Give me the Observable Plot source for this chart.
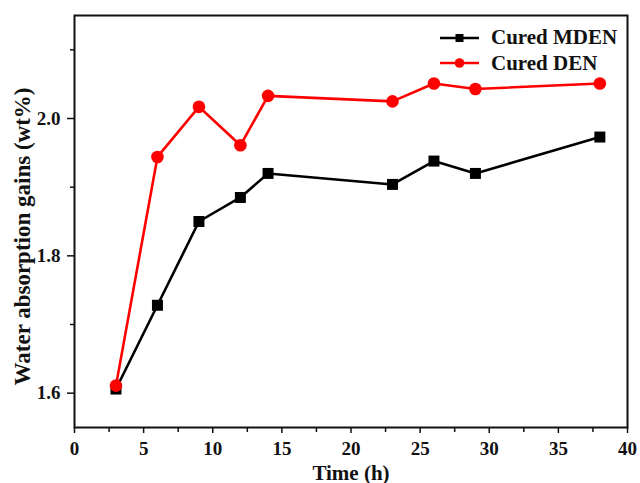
<!DOCTYPE html>
<html>
<head>
<meta charset="utf-8">
<script src="https://cdn.jsdelivr.net/npm/d3@7"></script>
<script src="https://cdn.jsdelivr.net/npm/@observablehq/plot@0.6"></script>
<style>
  html, body { margin: 0; padding: 0; background: #fff; }
  #wrap { position: relative; width: 640px; height: 483px; }
  #legend { position: absolute; left: 440px; top: 25px; font-family: "Liberation Serif", serif; font-weight: bold; font-size: 21px; color: #111; }
  .row { display: flex; align-items: center; height: 25.6px; }
  .row svg { margin-right: 11px; }
</style>
</head>
<body>
<div id="wrap"></div>
<script>
// Data
const time = [3, 6, 9, 12, 14, 23, 26, 29, 38];
const mden = [1.606, 1.728, 1.850, 1.885, 1.920, 1.904, 1.938, 1.920, 1.973];
const den  = [1.611, 1.944, 2.017, 1.961, 2.033, 2.025, 2.051, 2.043, 2.051];
const seriesNames = ["Cured MDEN", "Cured DEN"];
const xTicks = [0, 5, 10, 15, 20, 25, 30, 35, 40];
const xMinor = [2.5, 7.5, 12.5, 17.5, 22.5, 27.5, 32.5, 37.5];
const yTicks = [1.6, 1.8, 2.0];
const yMinor = [1.7, 1.9, 2.1];
const xLabel = "Time (h)";
const yLabel = "Water absorption gains (wt%)";

const mdenData = time.map((t, i) => ({t, v: mden[i]}));
const denData = time.map((t, i) => ({t, v: den[i]}));

const font = "'Liberation Serif', 'Times New Roman', serif";
const RED = "#ff0000";

const chart = Plot.plot({
  width: 640,
  height: 483,
  marginLeft: 74,
  marginRight: 13,
  marginTop: 15,
  marginBottom: 56,
  style: { fontFamily: font, fontWeight: "bold", fontSize: "19px", color: "#111", background: "#fff" },
  x: { domain: [0, 40] },
  y: { domain: [1.55, 2.15] },
  marks: [
    Plot.axisX({ ticks: xTicks, tickSize: 6, tickPadding: 8, label: null, fontSize: 19, strokeWidth: 1.5 }),
    Plot.axisX({ ticks: xMinor, tickSize: 5, tickFormat: () => "", label: null, strokeWidth: 1.5 }),
    Plot.axisY({ ticks: yTicks, tickSize: 7, tickPadding: 7, tickFormat: d3.format(".1f"), label: null, fontSize: 19, strokeWidth: 1.5 }),
    Plot.axisY({ ticks: yMinor, tickSize: 4, tickFormat: () => "", label: null, strokeWidth: 1.5 }),
    Plot.frame({ stroke: "#111", strokeWidth: 2 }),
    Plot.line(mdenData, { x: "t", y: "v", stroke: "#000", strokeWidth: 2.6 }),
    Plot.dot(mdenData, { x: "t", y: "v", symbol: "square", fill: "#000", r: 6.2 }),
    Plot.line(denData, { x: "t", y: "v", stroke: RED, strokeWidth: 2.6 }),
    Plot.dot(denData, { x: "t", y: "v", symbol: "circle", fill: RED, r: 6.3 }),
    Plot.text([xLabel], { frameAnchor: "bottom", dy: 52, fontSize: 21, fontWeight: "bold", fill: "#111" }),
    Plot.text([yLabel], { frameAnchor: "left", textAnchor: "middle", lineAnchor: "middle", rotate: -90, dx: -52, dy: 15, fontSize: 23, fontWeight: "bold", fill: "#111" })
  ]
});
document.getElementById("wrap").appendChild(chart);

// Legend
const legend = document.createElement("div");
legend.id = "legend";
const swatches = [
  { color: "#000", symbol: "square" },
  { color: RED, symbol: "circle" }
];
seriesNames.forEach((name, i) => {
  const row = document.createElement("div");
  row.className = "row";
  const s = swatches[i];
  const marker = s.symbol === "square"
    ? `<rect x="15.5" y="5" width="8" height="8" fill="${s.color}"/>`
    : `<circle cx="19.5" cy="9" r="4.8" fill="${s.color}"/>`;
  row.innerHTML = `<svg width="40" height="18"><line x1="0" x2="39" y1="9" y2="9" stroke="${s.color}" stroke-width="2.6"/>${marker}</svg><span>${name}</span>`;
  legend.appendChild(row);
});
document.getElementById("wrap").appendChild(legend);
</script>
</body>
</html>
